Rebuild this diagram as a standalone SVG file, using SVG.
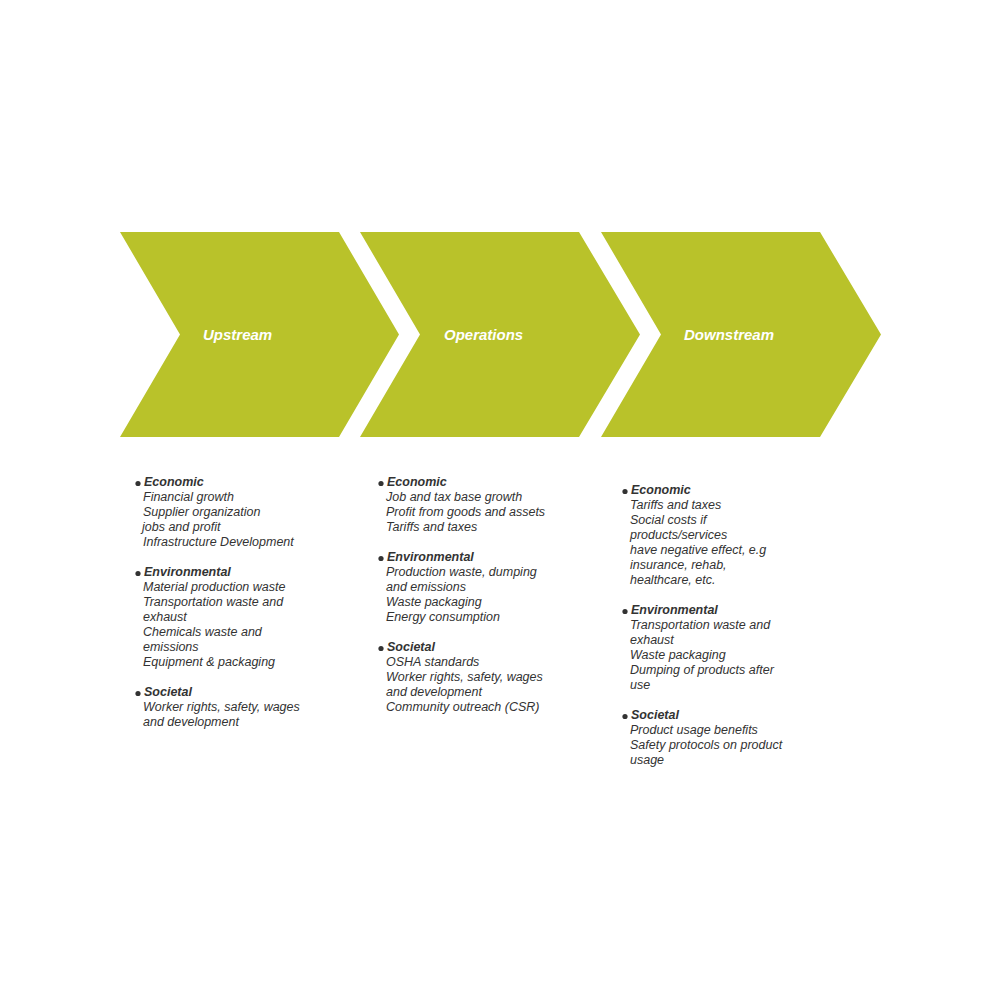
<svg xmlns="http://www.w3.org/2000/svg" width="1000" height="1000" viewBox="0 0 1000 1000">
<style>
.chev{fill:#B9C22A;}
.lbl{font-family:"Liberation Sans",Arial,sans-serif;font-size:15px;font-weight:bold;font-style:italic;fill:#FFFFFF;}
.h{font-family:"Liberation Sans",Arial,sans-serif;font-size:12.5px;font-weight:bold;font-style:italic;fill:#333333;}
.t{font-family:"Liberation Sans",Arial,sans-serif;font-size:12.5px;font-style:italic;fill:#333333;}
.b{fill:#333333;}
</style>
<rect width="1000" height="1000" fill="#FFFFFF"/>
<g id="upstream">
<polygon class="chev" points="120,232 339,232 399,334.5 339,437 120,437 180,334.5"/>
<text class="lbl" x="203" y="340">Upstream</text>
</g>
<g id="operations">
<polygon class="chev" points="360,232 579,232 640,334.5 579,437 360,437 420,334.5"/>
<text class="lbl" x="444" y="340">Operations</text>
</g>
<g id="downstream">
<polygon class="chev" points="601,232 820,232 881,334.5 820,437 601,437 661,334.5"/>
<text class="lbl" x="684" y="340">Downstream</text>
</g>
<g id="connectors"></g>
<g id="upstream-notes">
<circle class="b" cx="138" cy="483.5" r="2.6"/>
<text class="h" x="144" y="486">Economic</text>
<text class="t" x="143" y="501">Financial growth</text>
<text class="t" x="143" y="516">Supplier organization</text>
<text class="t" x="142" y="531">jobs and profit</text>
<text class="t" x="143" y="546">Infrastructure Development</text>
<circle class="b" cx="138" cy="573.5" r="2.6"/>
<text class="h" x="144" y="576">Environmental</text>
<text class="t" x="143" y="591">Material production waste</text>
<text class="t" x="143" y="606">Transportation waste and</text>
<text class="t" x="143" y="621">exhaust</text>
<text class="t" x="143" y="636">Chemicals waste and</text>
<text class="t" x="143" y="651">emissions</text>
<text class="t" x="143" y="666">Equipment &amp; packaging</text>
<circle class="b" cx="138" cy="693.5" r="2.6"/>
<text class="h" x="144" y="696">Societal</text>
<text class="t" x="143" y="711">Worker rights, safety, wages</text>
<text class="t" x="143" y="726">and development</text>
</g>
<g id="operations-notes">
<circle class="b" cx="381" cy="483.5" r="2.6"/>
<text class="h" x="387" y="486">Economic</text>
<text class="t" x="386" y="501">Job and tax base growth</text>
<text class="t" x="386" y="516">Profit from goods and assets</text>
<text class="t" x="386" y="531">Tariffs and taxes</text>
<circle class="b" cx="381" cy="558.5" r="2.6"/>
<text class="h" x="387" y="561">Environmental</text>
<text class="t" x="386" y="576">Production waste, dumping</text>
<text class="t" x="386" y="591">and emissions</text>
<text class="t" x="386" y="606">Waste packaging</text>
<text class="t" x="386" y="621">Energy consumption</text>
<circle class="b" cx="381" cy="648.5" r="2.6"/>
<text class="h" x="387" y="651">Societal</text>
<text class="t" x="386" y="666">OSHA standards</text>
<text class="t" x="386" y="681">Worker rights, safety, wages</text>
<text class="t" x="386" y="696">and development</text>
<text class="t" x="386" y="711">Community outreach (CSR)</text>
</g>
<g id="downstream-notes">
<circle class="b" cx="625" cy="491.5" r="2.6"/>
<text class="h" x="631" y="494">Economic</text>
<text class="t" x="630" y="509">Tariffs and taxes</text>
<text class="t" x="630" y="524">Social costs if</text>
<text class="t" x="630" y="539">products/services</text>
<text class="t" x="630" y="554">have negative effect, e.g</text>
<text class="t" x="630" y="569">insurance, rehab,</text>
<text class="t" x="630" y="584">healthcare, etc.</text>
<circle class="b" cx="625" cy="611.5" r="2.6"/>
<text class="h" x="631" y="614">Environmental</text>
<text class="t" x="630" y="629">Transportation waste and</text>
<text class="t" x="630" y="644">exhaust</text>
<text class="t" x="630" y="659">Waste packaging</text>
<text class="t" x="630" y="674">Dumping of products after</text>
<text class="t" x="630" y="689">use</text>
<circle class="b" cx="625" cy="716.5" r="2.6"/>
<text class="h" x="631" y="719">Societal</text>
<text class="t" x="630" y="734">Product usage benefits</text>
<text class="t" x="630" y="749">Safety protocols on product</text>
<text class="t" x="630" y="764">usage</text>
</g>
</svg>
